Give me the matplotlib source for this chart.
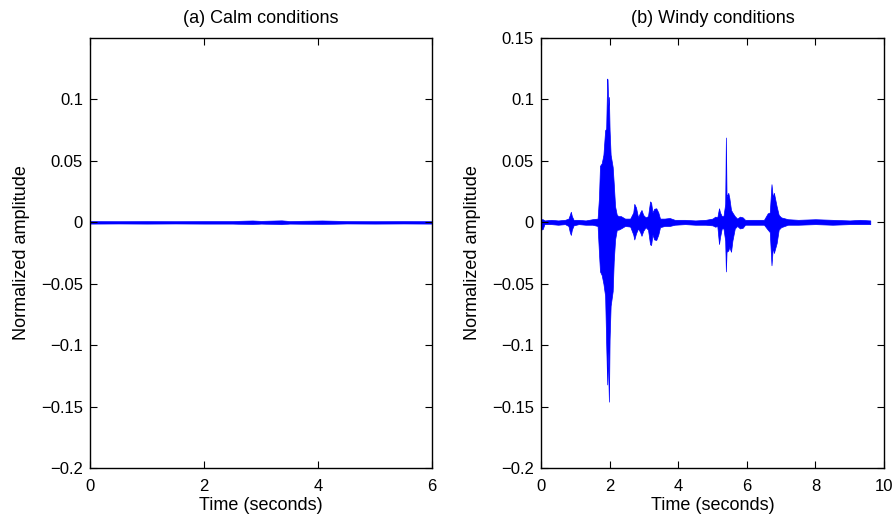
import matplotlib
matplotlib.use("Agg")
import matplotlib.pyplot as plt

# (a) calm: envelope of the recorded signal (upper / lower amplitude)
calm_t = [0.0, 0.5, 1.0, 1.5, 2.0, 2.5, 2.75, 2.85, 3.0, 3.36, 3.5, 4.07, 4.5, 5.0, 5.5, 6.0]
calm_hi = [0.0011, 0.0010, 0.0011, 0.0010, 0.0011, 0.0011, 0.0014, 0.0015, 0.0012, 0.0016, 0.0011, 0.0015, 0.0011, 0.0010, 0.0011, 0.0010]
calm_lo = [-0.0011, -0.0010, -0.0011, -0.0010, -0.0011, -0.0011, -0.0014, -0.0015, -0.0011, -0.0016, -0.0011, -0.0014, -0.0010, -0.0011, -0.0010, -0.0011]

# (b) windy: envelope of the recorded signal
windy_t = [
    0.00, 0.05, 0.10, 0.30, 0.50, 0.70, 0.80, 0.84, 0.87, 0.90,
    0.95, 1.10, 1.30, 1.50, 1.65, 1.69, 1.72, 1.77, 1.82, 1.87,
    1.90, 1.93, 1.94, 1.96, 1.98, 2.00, 2.03, 2.09, 2.12, 2.16,
    2.21, 2.26, 2.33, 2.45, 2.60, 2.69, 2.72, 2.77, 2.83, 2.89,
    2.93, 2.98, 3.05, 3.12, 3.18, 3.21, 3.25, 3.30, 3.36, 3.42,
    3.47, 3.60, 3.75, 3.90, 4.20, 4.50, 4.80, 5.00, 5.08, 5.14,
    5.19, 5.22, 5.27, 5.32, 5.37, 5.39, 5.41, 5.46, 5.49, 5.54,
    5.58, 5.65, 5.72, 5.80, 5.88, 5.95, 6.20, 6.50, 6.61, 6.67,
    6.72, 6.76, 6.79, 6.87, 6.93, 7.00, 7.20, 7.50, 8.00, 8.50,
    9.00, 9.30, 9.60,
]
windy_hi = [
    0.0025, 0.0025, 0.0015, 0.0020, 0.0015, 0.0020, 0.0030, 0.0060, 0.0086, 0.0050,
    0.0020, 0.0020, 0.0015, 0.0025, 0.0030, 0.0200, 0.0460, 0.0480, 0.0550, 0.0750,
    0.0760, 0.1170, 0.1160, 0.0950, 0.1020, 0.0750, 0.0550, 0.0450, 0.0320, 0.0130,
    0.0060, 0.0050, 0.0050, 0.0030, 0.0030, 0.0080, 0.0150, 0.0120, 0.0040, 0.0080,
    0.0100, 0.0060, 0.0040, 0.0050, 0.0170, 0.0160, 0.0080, 0.0110, 0.0114, 0.0080,
    0.0030, 0.0030, 0.0035, 0.0020, 0.0020, 0.0015, 0.0020, 0.0030, 0.0046, 0.0040,
    0.0114, 0.0080, 0.0050, 0.0050, 0.0150, 0.0690, 0.0210, 0.0240, 0.0200, 0.0100,
    0.0080, 0.0050, 0.0030, 0.0046, 0.0040, 0.0020, 0.0020, 0.0020, 0.0073, 0.0080,
    0.0310, 0.0200, 0.0240, 0.0130, 0.0060, 0.0040, 0.0025, 0.0020, 0.0025, 0.0020,
    0.0015, 0.0020, 0.0015,
]
windy_lo = [
    -0.0060, -0.0055, -0.0015, -0.0015, -0.0020, -0.0015, -0.0030, -0.0080, -0.0103, -0.0060,
    -0.0025, -0.0015, -0.0020, -0.0020, -0.0030, -0.0250, -0.0400, -0.0430, -0.0500, -0.0600,
    -0.0980, -0.1320, -0.1050, -0.1230, -0.1460, -0.0950, -0.0680, -0.0560, -0.0320, -0.0140,
    -0.0060, -0.0060, -0.0050, -0.0030, -0.0035, -0.0100, -0.0140, -0.0090, -0.0050, -0.0080,
    -0.0110, -0.0070, -0.0040, -0.0060, -0.0180, -0.0185, -0.0100, -0.0140, -0.0144, -0.0100,
    -0.0040, -0.0030, -0.0030, -0.0020, -0.0015, -0.0020, -0.0020, -0.0025, -0.0036, -0.0030,
    -0.0177, -0.0120, -0.0050, -0.0050, -0.0150, -0.0400, -0.0240, -0.0230, -0.0200, -0.0240,
    -0.0150, -0.0050, -0.0030, -0.0050, -0.0045, -0.0020, -0.0020, -0.0020, -0.0060, -0.0080,
    -0.0350, -0.0200, -0.0250, -0.0170, -0.0060, -0.0040, -0.0020, -0.0020, -0.0015, -0.0020,
    -0.0015, -0.0015, -0.0015,
]

left_yticks = [-0.2, -0.15, -0.1, -0.05, 0, 0.05, 0.1]
right_yticks = [-0.2, -0.15, -0.1, -0.05, 0, 0.05, 0.1, 0.15]


def tick_fmt(v):
    s = "%g" % v
    return s.replace("-", "\u2212")


def style_axes(ax, xlim, xticks, yticks, title):
    ax.set_xlim(*xlim)
    ax.set_ylim(-0.2, 0.15)
    ax.set_xticks(xticks)
    ax.set_xticklabels([tick_fmt(v) for v in xticks])
    ax.set_yticks(yticks)
    ax.set_yticklabels([tick_fmt(v) for v in yticks])
    ax.tick_params(direction="in", top=True, right=True, length=5, width=0.8,
                   labelsize=12)
    ax.tick_params(axis="x", pad=8)
    ax.tick_params(axis="y", pad=5)
    for sp in ax.spines.values():
        sp.set_linewidth(1.0)
    ax.set_title(title, fontsize=13, pad=11)
    ax.set_xlabel("Time (seconds)", fontsize=13, labelpad=2)
    ax.set_ylabel("Normalized amplitude", fontsize=13, labelpad=8)


plt.rcParams["font.family"] = ["Liberation Sans", "DejaVu Sans"]

fig = plt.figure(figsize=(8.95, 5.2), dpi=100)
ax1 = fig.add_axes([90 / 895, 52 / 520, 342 / 895, 430 / 520])
ax2 = fig.add_axes([541 / 895, 52 / 520, 343 / 895, 430 / 520])

ax1.fill_between(calm_t, calm_lo, calm_hi, color="#0000ff", linewidth=0.4)
style_axes(ax1, (0, 6), [0, 2, 4, 6], left_yticks, "(a) Calm conditions")

ax2.fill_between(windy_t, windy_lo, windy_hi, color="#0000ff", linewidth=0.5)
style_axes(ax2, (0, 10), [0, 2, 4, 6, 8, 10], right_yticks, "(b) Windy conditions")

fig.savefig("out.png", dpi=100)
